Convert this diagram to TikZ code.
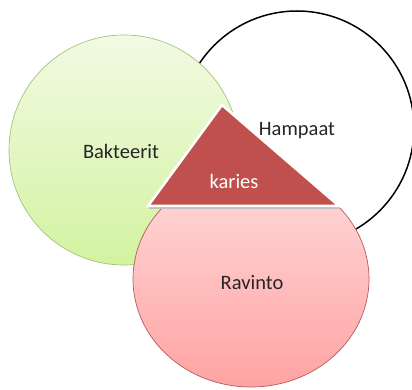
\documentclass[tikz,border=0pt]{standalone}
\usepackage{fontspec}
\setmainfont{Carlito}
\usetikzlibrary{shapes.geometric}
\definecolor{txt}{HTML}{262626}
\definecolor{grtop}{HTML}{F2FAE4}
\definecolor{grbot}{HTML}{D3F3A0}
\definecolor{grline}{HTML}{A6C27A}
\definecolor{pktop}{HTML}{FFDADA}
\definecolor{pkbot}{HTML}{FFA3A3}
\definecolor{pkline}{HTML}{B85A57}
\definecolor{tri}{HTML}{C0504D}
\tikzset{
  lbl/.style={anchor=base, text=txt, inner sep=0pt, font=\fontsize{20.5bp}{24bp}\selectfont},
  ringwhite/.style={circle, draw=black, line width=1.5bp, fill=white, minimum size=234bp, inner sep=0pt},
  ringgreen/.style={circle, draw=grline, line width=0.7bp, top color=grtop, bottom color=grbot, minimum size=230bp, inner sep=0pt},
  ringpink/.style={ellipse, draw=pkline, line width=0.7bp, top color=pktop, bottom color=pkbot, minimum width=236bp, minimum height=216bp, inner sep=0pt},
  tristyle/.style={fill=tri, draw=white, line width=2.5bp, line join=miter}
}
\begin{document}
\begin{tikzpicture}[x=1bp,y=1bp]
\useasboundingbox (0,0) rectangle (412,390);
\node[ringwhite] (ham) at (297,262) {};
\node[ringgreen] (bak) at (124,240) {};
\node[ringpink] (rav) at (251,111) {};
\fill[black!25] (149,181) -- (340,181) -- (340,183) -- (149,183) -- cycle;
\coordinate (tA) at (222,285);
\coordinate (tB) at (148,184);
\coordinate (tC) at (339,184);
\draw[tristyle] (tA) -- (tB) -- (tC) -- cycle;
\node[lbl] (tbak) at (121,232) {Bakteerit};
\node[lbl] (tham) at (297,255) {Hampaat};
\node[lbl, text=white] (tkar) at (234,202) {karies};
\node[lbl] (trav) at (252,101) {Ravinto};
\end{tikzpicture}
\end{document}
